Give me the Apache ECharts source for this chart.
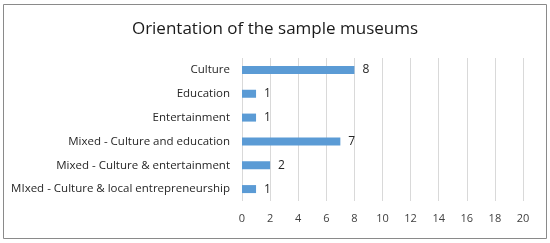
<!DOCTYPE html>
<html><head><meta charset="utf-8">
<script src="https://cdn.jsdelivr.net/npm/echarts@6/dist/echarts.min.js"></script>
<style>html,body{margin:0;padding:0;background:#fff}#c{width:550px;height:243px}</style>
</head><body><div id="c"></div>
<script>
const title = 'Orientation of the sample museums';
const categories = ['Culture','Education','Entertainment','Mixed - Culture and education','Mixed - Culture & entertainment','MIxed - Culture & local entrepreneurship'];
const values = [8,1,1,7,2,1];
const xTicks = [0,2,4,6,8,10,12,14,16,18,20];

const chart = echarts.init(document.getElementById('c'), null, {renderer:'canvas'});
const font = 'Open Sans';
chart.setOption({
  animation:false,
  backgroundColor:'#fff',
  graphic:[{type:'rect',shape:{x:3.5,y:4.5,width:543,height:234},style:{fill:'none',stroke:'#8a8a8a',lineWidth:1}}],
  title:{text:title,left:'center',top:16,textStyle:{fontFamily:font,fontSize:17,fontWeight:'normal',color:'#1a1a1a'}},
  grid:{left:242,right:27,top:58,bottom:42,containLabel:false},
  xAxis:{type:'value',min:xTicks[0],max:xTicks[xTicks.length-1],interval:2,
    axisLine:{show:false},axisTick:{show:false},
    axisLabel:{fontFamily:font,fontSize:11,color:'#404040',margin:12},
    splitLine:{lineStyle:{color:'#d9d9d9',width:1}}},
  yAxis:{type:'category',data:categories,inverse:true,
    axisLine:{show:false},axisTick:{show:false},
    axisLabel:{fontFamily:font,fontSize:11.5,color:'#262626',margin:12}},
  series:[{type:'bar',data:values,barWidth:8,itemStyle:{color:'#5b9bd5'},
    label:{show:true,position:'right',distance:8,fontFamily:font,fontSize:12,color:'#262626'}}]
});
</script></body></html>
